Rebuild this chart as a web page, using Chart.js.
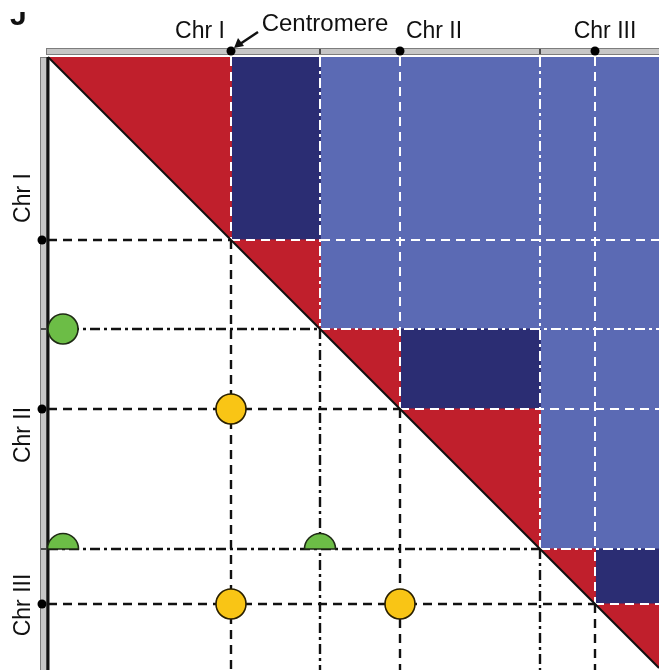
<!DOCTYPE html>
<html>
<head>
<meta charset="utf-8">
<script src="https://cdn.jsdelivr.net/npm/chart.js@4.4.0/dist/chart.umd.min.js"></script>
<style>
  html, body { margin: 0; padding: 0; background: #fff; overflow: hidden; }
  #wrap { width: 659px; height: 670px; position: relative; }
</style>
</head>
<body>
<div id="wrap"><canvas id="c" width="659" height="670"></canvas></div>
<script>
// chromosome layout, in plot units along both axes
const chrNames = ['Chr I', 'Chr II', 'Chr III'];
const chrStart = [0, 272, 492];
const chrCentromere = [183, 352, 547];
const chrEnd = [272, 492, 611];
const xMax = 611;
const yMax = 613;

// where the axis names sit
const topLabelPos = [152, 386, 557];
const leftLabelPos = [141, 378, 548];

// green marks (chromosome ends)
const greenX = [15, 15, 272];
const greenY = [272, 492, 492];
const greenHalf = [false, true, true];

// yellow marks (centromere pairs)
const yellowX = [183, 183, 352];
const yellowY = [352, 547, 547];

const RED = '#c01f2c';
const NAVY = '#2b2d73';
const BLUE = '#5b6ab4';
const GREEN = '#6cbd46';
const YELLOW = '#f9c515';
const FONT = "'Liberation Sans', Arial, sans-serif";

const breaks = [...new Set([...chrStart, ...chrCentromere, ...chrEnd])].sort((a, b) => a - b);

const shape = (pts, color) => ({
  data: pts.map(p => ({x: p[0], y: p[1]})),
  fill: 'shape',
  backgroundColor: color,
  borderColor: color,
  borderWidth: 1,
  pointRadius: 0
});

const seg = (x1, y1, x2, y2, color, width, dash) => ({
  data: [{x: x1, y: y1}, {x: x2, y: y2}],
  borderColor: color,
  borderWidth: width,
  borderDash: dash || [],
  fill: false,
  pointRadius: 0,
  clip: false
});

const halfDot = document.createElement('canvas');
halfDot.width = 36; halfDot.height = 36;
(function () {
  const g = halfDot.getContext('2d');
  g.beginPath();
  g.arc(18, 18, 15.5, Math.PI, 2 * Math.PI);
  g.closePath();
  g.fillStyle = GREEN;
  g.fill();
  g.lineWidth = 1.6;
  g.strokeStyle = '#1e2a14';
  g.stroke();
})();

const datasets = [];

// upper triangle background
datasets.push(shape([[0, 0], [xMax, 0], [xMax, xMax]], BLUE));

// within-chromosome arm blocks
for (let i = 0; i < chrNames.length; i++) {
  const s = chrStart[i], c = chrCentromere[i], e = chrEnd[i];
  datasets.push(shape([[c, s], [e, s], [e, c], [c, c]], NAVY));
}

// red triangles on the diagonal
for (let i = 0; i < breaks.length - 1; i++) {
  const a = breaks[i], b = breaks[i + 1];
  datasets.push(shape([[a, a], [b, a], [b, b]], RED));
}

// dashed guide lines
breaks.slice(1, -1).forEach(b => {
  const dash = chrCentromere.includes(b) ? [9, 6] : [10, 4, 3, 4];
  datasets.push(seg(b, 0, b, b, '#ffffff', 2, dash));
  datasets.push(seg(b, b, xMax, b, '#ffffff', 2, dash));
  datasets.push(seg(b, b, b, yMax, '#111111', 2.4, dash));
  datasets.push(seg(0, b, b, b, '#111111', 2.4, dash));
});

// diagonal and left border
datasets.push(seg(0, 0, xMax, xMax, '#111111', 2));
datasets.push(seg(0, 0, 0, yMax, '#111111', 3));

// centromere dots on both axes (outside the plot area, so widen the hit margin)
const axisDot = (pts, idx) => ({
  data: pts,
  indexAxis: idx,
  showLine: false,
  pointRadius: 4.5,
  pointHoverRadius: 12,
  pointBackgroundColor: '#000',
  pointBorderWidth: 0,
  clip: false
});
datasets.push(axisDot(chrCentromere.map(c => ({x: c, y: -6})), 'x'));
datasets.push(axisDot(chrCentromere.map(c => ({x: -6, y: c})), 'y'));

// marks
datasets.push({
  data: greenX.map((x, i) => ({x: x, y: greenY[i]})),
  showLine: false,
  pointStyle: ctx => greenHalf[ctx.dataIndex] ? halfDot : 'circle',
  pointRadius: 15,
  pointBackgroundColor: GREEN,
  pointBorderColor: '#1e2a14',
  pointBorderWidth: 1.6,
  clip: false
});
datasets.push({
  data: yellowX.map((x, i) => ({x: x, y: yellowY[i]})),
  showLine: false,
  pointRadius: 15,
  pointBackgroundColor: YELLOW,
  pointBorderColor: '#2a2000',
  pointBorderWidth: 1.6,
  clip: false
});

datasets.forEach((d, i) => { d.order = datasets.length - i; });

const decorations = {
  id: 'decorations',
  beforeDatasetsDraw(chart) {
    const {ctx, chartArea, scales: {x, y}} = chart;
    ctx.save();
    ctx.fillStyle = '#c6c6c6';
    ctx.strokeStyle = '#7d7d7d';
    ctx.lineWidth = 1;
    // top bar
    ctx.fillRect(chartArea.left - 2, chartArea.top - 9, chartArea.right - chartArea.left + 2, 7);
    ctx.strokeRect(chartArea.left - 2 + 0.5, chartArea.top - 9 + 0.5, chartArea.right - chartArea.left + 2, 6);
    // left bar
    ctx.fillRect(chartArea.left - 8, chartArea.top, 7, chartArea.bottom - chartArea.top);
    ctx.strokeRect(chartArea.left - 8 + 0.5, chartArea.top + 0.5, 6, chartArea.bottom - chartArea.top);
    // boundary ticks
    ctx.strokeStyle = '#222';
    ctx.lineWidth = 1.5;
    chrEnd.slice(0, -1).forEach(v => {
      const px = x.getPixelForValue(v), py = y.getPixelForValue(v);
      ctx.beginPath();
      ctx.moveTo(px, chartArea.top - 8); ctx.lineTo(px, chartArea.top - 3);
      ctx.moveTo(chartArea.left - 7, py); ctx.lineTo(chartArea.left - 2, py);
      ctx.stroke();
    });
    ctx.restore();
  },
  afterDraw(chart) {
    const {ctx, chartArea, scales: {x, y}} = chart;
    ctx.save();
    ctx.fillStyle = '#111';
    ctx.font = '23px ' + FONT;
    ctx.textAlign = 'center';
    ctx.textBaseline = 'middle';
    // left axis names
    leftLabelPos.forEach((v, i) => {
      ctx.save();
      ctx.translate(24, y.getPixelForValue(v));
      ctx.rotate(-Math.PI / 2);
      ctx.fillText(chrNames[i], 0, 0);
      ctx.restore();
    });
    // centromere callout
    const cx = x.getPixelForValue(chrCentromere[0]);
    const cy = chartArea.top - 6;
    ctx.font = '24px ' + FONT;
    ctx.fillText('Centromere', cx + 94, 24);
    ctx.strokeStyle = '#111';
    ctx.lineWidth = 2.4;
    ctx.beginPath();
    ctx.moveTo(cx + 27, cy - 19);
    ctx.lineTo(cx + 9, cy - 7);
    ctx.stroke();
    ctx.beginPath();
    ctx.moveTo(cx + 3, cy - 3);
    ctx.lineTo(cx + 13, cy - 5);
    ctx.lineTo(cx + 7, cy - 13);
    ctx.closePath();
    ctx.fill();
    // panel letter, cut off at the top as in the source figure
    ctx.font = 'bold 30px ' + FONT;
    ctx.textAlign = 'left';
    ctx.textBaseline = 'alphabetic';
    ctx.fillText('J', 10, 25);
    ctx.fillStyle = '#fff';
    ctx.fillRect(0, 0, 40, 12);
    ctx.restore();
  }
};

new Chart(document.getElementById('c'), {
  type: 'line',
  data: {datasets: datasets},
  options: {
    responsive: false,
    animation: false,
    events: [],
    layout: {padding: 0, autoPadding: false},
    plugins: {legend: {display: false}, tooltip: {enabled: false}},
    scales: {
      x: {
        type: 'linear',
        position: 'top',
        min: 0,
        max: xMax,
        grid: {display: false, drawTicks: false},
        border: {display: false},
        afterFit: s => { s.height = 57; },
        afterBuildTicks: s => { s.ticks = topLabelPos.map(v => ({value: v})); },
        ticks: {
          autoSkip: false,
          maxRotation: 0,
          padding: 12,
          color: '#111',
          font: {family: FONT, size: 23},
          callback: (v, i) => chrNames[i]
        }
      },
      y: {
        type: 'linear',
        reverse: true,
        min: 0,
        max: yMax,
        grid: {display: false, drawTicks: false},
        border: {display: false},
        ticks: {display: false},
        afterFit: s => { s.width = 48; }
      }
    }
  },
  plugins: [decorations]
});
</script>
</body>
</html>
